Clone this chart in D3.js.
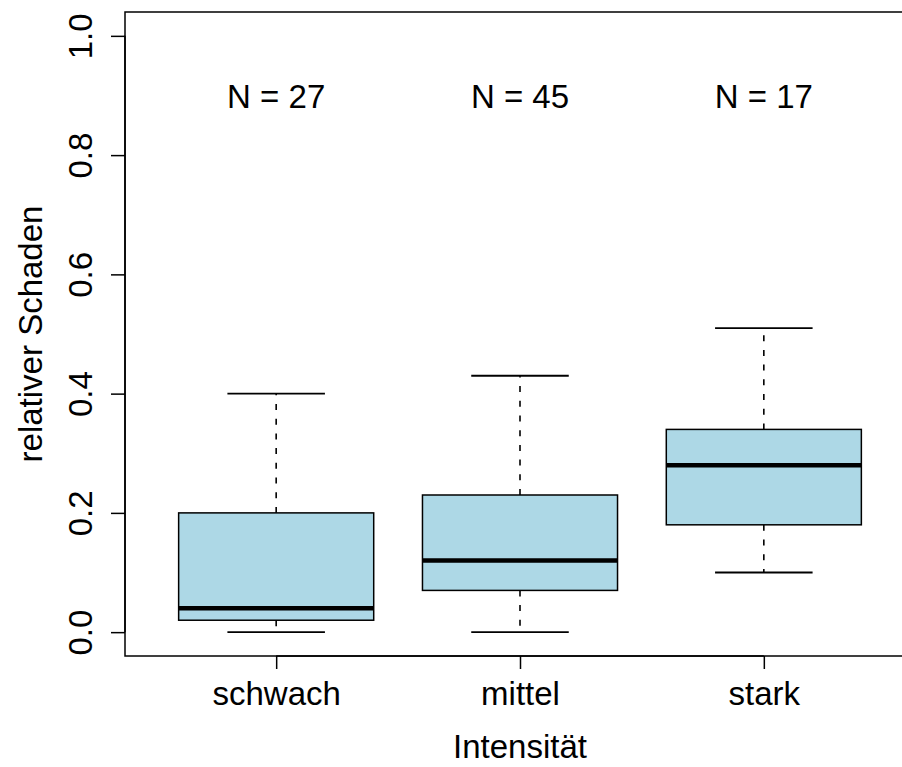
<!DOCTYPE html>
<html>
<head>
<meta charset="utf-8">
<script src="https://cdn.jsdelivr.net/npm/d3@7"></script>
<style>
  body { margin: 0; background: #fff; }
  svg text { font-family: "Liberation Sans", Arial, sans-serif; fill: #000; }
</style>
</head>
<body>
<div id="chart"></div>
<script>
// data
var categories = ["schwach", "mittel", "stark"];
var counts = [27, 45, 17];
var whiskerLow = [0.00, 0.00, 0.10];
var q1 = [0.02, 0.07, 0.18];
var medians = [0.04, 0.12, 0.28];
var q3 = [0.20, 0.23, 0.34];
var whiskerHigh = [0.40, 0.43, 0.51];
var yTicks = [0, 0.2, 0.4, 0.6, 0.8, 1.0];

var width = 902, height = 767;
var fontSize = 33;

var svg = d3.select("#chart")
  .append("svg")
    .attr("width", width)
    .attr("height", height);

// R style: xlim 0.38..3.62, ylim -0.04..1.04
var x = d3.scaleLinear()
  .domain([0.38, 3.62])
  .range([125, 915]);

var y = d3.scaleLinear()
  .domain([-0.04, 1.04])
  .range([656, 12]);

var boxes = categories.map(function(c, i) {
  return {cat: c, pos: i + 1, n: counts[i], lo: whiskerLow[i], q1: q1[i],
          med: medians[i], q3: q3[i], hi: whiskerHigh[i]};
});

var g = svg.selectAll(".box")
  .data(boxes)
  .enter()
  .append("g")
    .attr("class", "box");

// dashed whiskers
g.append("line")
    .attr("x1", function(d) { return x(d.pos); })
    .attr("x2", function(d) { return x(d.pos); })
    .attr("y1", function(d) { return y(d.q3); })
    .attr("y2", function(d) { return y(d.hi); })
    .attr("stroke", "#000")
    .attr("stroke-width", 1.6)
    .attr("stroke-dasharray", "6,8.7");
g.append("line")
    .attr("x1", function(d) { return x(d.pos); })
    .attr("x2", function(d) { return x(d.pos); })
    .attr("y1", function(d) { return y(d.q1); })
    .attr("y2", function(d) { return y(d.lo); })
    .attr("stroke", "#000")
    .attr("stroke-width", 1.6)
    .attr("stroke-dasharray", "6,8.7");

// whisker caps
[["hi"], ["lo"]].forEach(function(k) {
  g.append("line")
      .attr("x1", function(d) { return x(d.pos - 0.2); })
      .attr("x2", function(d) { return x(d.pos + 0.2); })
      .attr("y1", function(d) { return y(d[k[0]]); })
      .attr("y2", function(d) { return y(d[k[0]]); })
      .attr("stroke", "#000")
      .attr("stroke-width", 1.8);
});

// boxes
g.append("rect")
    .attr("x", function(d) { return x(d.pos - 0.4); })
    .attr("width", x(1.4) - x(0.6))
    .attr("y", function(d) { return y(d.q3); })
    .attr("height", function(d) { return y(d.q1) - y(d.q3); })
    .attr("fill", "#ADD8E6")
    .attr("stroke", "#000")
    .attr("stroke-width", 1.5);

// medians
g.append("line")
    .attr("x1", function(d) { return x(d.pos - 0.4); })
    .attr("x2", function(d) { return x(d.pos + 0.4); })
    .attr("y1", function(d) { return y(d.med); })
    .attr("y2", function(d) { return y(d.med); })
    .attr("stroke", "#000")
    .attr("stroke-width", 4.5);

// N labels
g.append("text")
    .attr("x", function(d) { return x(d.pos); })
    .attr("y", 108)
    .attr("text-anchor", "middle")
    .style("font-size", fontSize + "px")
    .text(function(d) { return "N = " + d.n; });

// plot frame
svg.append("rect")
    .attr("x", x(0.38))
    .attr("y", y(1.04))
    .attr("width", x(3.62) - x(0.38))
    .attr("height", y(-0.04) - y(1.04))
    .attr("fill", "none")
    .attr("stroke", "#000")
    .attr("stroke-width", 1.5);

// x axis
var xAxis = svg.append("g")
  .attr("transform", "translate(0," + y(-0.04) + ")")
  .call(d3.axisBottom(x)
    .tickValues([1, 2, 3])
    .tickFormat(function(d) { return categories[d - 1]; })
    .tickSize(13)
    .tickPadding(12));
xAxis.select(".domain")
    .attr("d", "M" + x(1) + ",0H" + x(3))
    .attr("stroke-width", 1.5);
xAxis.selectAll(".tick line").attr("stroke-width", 1.5);
xAxis.selectAll(".tick text")
    .attr("font-family", null)
    .style("font-size", fontSize + "px")
    .attr("dy", null)
    .attr("y", 49);

// y axis
var yAxis = svg.append("g")
  .attr("transform", "translate(" + x(0.38) + ",0)")
  .call(d3.axisLeft(y)
    .tickValues(yTicks)
    .tickFormat(d3.format(".1f"))
    .tickSize(14));
yAxis.select(".domain")
    .attr("d", "M0," + y(0) + "V" + y(1))
    .attr("stroke-width", 1.5);
yAxis.selectAll(".tick line").attr("stroke-width", 1.5);
yAxis.selectAll(".tick text")
    .attr("font-family", null)
    .style("font-size", fontSize + "px")
    .attr("x", null)
    .attr("dy", null)
    .attr("text-anchor", "middle")
    .attr("transform", "translate(-33,0) rotate(-90)");

// axis titles
svg.append("text")
    .attr("x", (x(0.38) + x(3.62)) / 2)
    .attr("y", 758)
    .attr("text-anchor", "middle")
    .style("font-size", fontSize + "px")
    .text("Intensität");

svg.append("text")
    .attr("transform", "translate(42," + (y(-0.04) + y(1.04)) / 2 + ") rotate(-90)")
    .attr("text-anchor", "middle")
    .style("font-size", fontSize + "px")
    .text("relativer Schaden");
</script>
</body>
</html>
